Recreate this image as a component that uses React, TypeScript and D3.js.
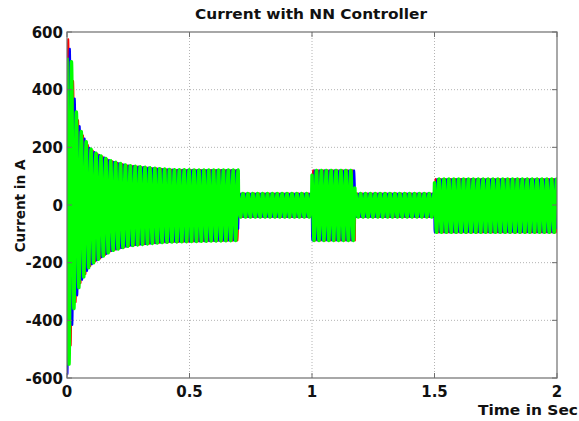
import React from "react";
import * as d3 from "d3";

// Envelope of the three-phase current (A)
const envTime = [0, 0.005, 0.012, 0.02, 0.028, 0.04, 0.05, 0.06, 0.078, 0.09, 0.114, 0.135, 0.176, 0.19, 0.243, 0.27, 0.35, 0.407, 0.45, 0.699, 0.7, 0.999, 1.0, 1.175, 1.176, 1.499, 1.5, 2.0];
const envUpper = [590, 575, 540, 485, 395, 310, 278, 250, 220, 200, 182, 172, 154, 150, 138, 135, 128, 124, 122, 121, 40, 40, 120, 120, 40, 40, 90, 90];
const envLower = [-590, -580, -520, -430, -360, -320, -280, -262, -235, -215, -196, -185, -161, -157, -144, -140, -133, -129, -128, -123, -42, -42, -123, -123, -42, -42, -95, -95];

const phaseNames = ["Ia", "Ib", "Ic"];
const phaseShiftDeg = [0, -120, 120];
const phaseColors = ["#ff0000", "#0000ff", "#00ff00"];
const phaseWidths = [2, 2, 3.4];
const lineFrequencyHz = 50;

const xTicks = [0, 0.5, 1, 1.5, 2];
const yTicks = [-600, -400, -200, 0, 200, 400, 600];

const W = 579;
const H = 421;
const L = 67, R = 557, T = 32, B = 378;

export default function App() {
  const x = d3.scaleLinear().domain([0, 2]).range([L, R]);
  const y = d3.scaleLinear().domain([-600, 600]).range([B, T]);
  const up = d3.scaleLinear().domain(envTime).range(envUpper);
  const lo = d3.scaleLinear().domain(envTime).range(envLower);

  const times = d3.range(0, 2.00001, 0.0002);
  const line = d3.line<[number, number]>().x((d) => x(d[0])).y((d) => y(d[1]));

  const paths = phaseNames.map((name, i) => {
    const phi = (phaseShiftDeg[i] * Math.PI) / 180;
    const pts: [number, number][] = times.map((t) => {
      const u = up(t), l = lo(t);
      const mid = (u + l) / 2, half = (u - l) / 2;
      return [t, mid + half * Math.sin(2 * Math.PI * lineFrequencyHz * t + phi)];
    });
    return { name, color: phaseColors[i], w: phaseWidths[i], d: line(pts) || "" };
  });

  const font = "'DejaVu Sans', Arial, sans-serif";
  const axisColor = "#6e6e6e";

  return (
    <svg width={W} height={H} style={{ position: "absolute", left: 0, top: 0, background: "#fff" }} fontFamily={font}>
      <rect x={0} y={0} width={W} height={H} fill="#fff" />
      {xTicks.slice(1, -1).map((t) => (
        <line key={"gx" + t} x1={x(t)} x2={x(t)} y1={T} y2={B} stroke="#b4b4b4" strokeWidth={1} strokeDasharray="1,2" />
      ))}
      {yTicks.slice(1, -1).map((t) => (
        <line key={"gy" + t} x1={L} x2={R} y1={y(t)} y2={y(t)} stroke="#b4b4b4" strokeWidth={1} strokeDasharray="1,2" />
      ))}
      <defs>
        <clipPath id="clip">
          <rect x={L} y={T - 1} width={R - L} height={B - T + 2} />
        </clipPath>
      </defs>
      <g clipPath="url(#clip)">
        {paths.map((p) => (
          <path key={p.name} d={p.d} fill="none" stroke={p.color} strokeWidth={p.w} strokeLinejoin="round" />
        ))}
      </g>
      <rect x={L} y={T} width={R - L} height={B - T} fill="none" stroke={axisColor} strokeWidth={1.2} />
      {xTicks.map((t) => (
        <g key={"tx" + t}>
          <line x1={x(t)} x2={x(t)} y1={B} y2={B - 5} stroke={axisColor} />
          <line x1={x(t)} x2={x(t)} y1={T} y2={T + 5} stroke={axisColor} />
          <text x={x(t)} y={397} textAnchor="middle" fontSize={15} fontWeight="bold" fill="#111">
            {String(t)}
          </text>
        </g>
      ))}
      {yTicks.map((t) => (
        <g key={"ty" + t}>
          <line x1={L} x2={L + 5} y1={y(t)} y2={y(t)} stroke={axisColor} />
          <line x1={R} x2={R - 5} y1={y(t)} y2={y(t)} stroke={axisColor} />
          <text x={63} y={y(t) + 5.5} textAnchor="end" fontSize={15} fontWeight="bold" fill="#111">
            {String(t)}
          </text>
        </g>
      ))}
      <text x={311} y={19} textAnchor="middle" fontSize={14} fontWeight="bold" fill="#111" textLength={232} lengthAdjust="spacingAndGlyphs">
        Current with NN Controller
      </text>
      <text transform={`translate(25,206) rotate(-90)`} textAnchor="middle" fontSize={14} fontWeight="bold" fill="#111" textLength={93} lengthAdjust="spacingAndGlyphs">
        Current in A
      </text>
      <text x={578} y={415} textAnchor="end" fontSize={14} fontWeight="bold" fill="#111" textLength={100} lengthAdjust="spacingAndGlyphs">
        Time in Sec
      </text>
    </svg>
  );
}
